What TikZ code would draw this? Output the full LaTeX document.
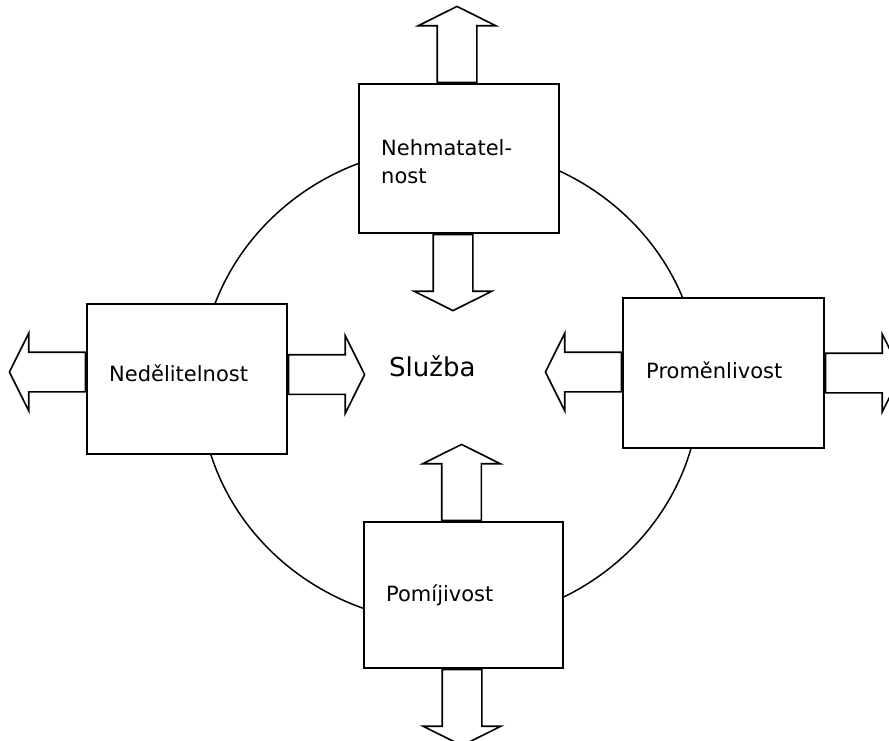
\documentclass[tikz,border=0pt]{standalone}
\usepackage{fontspec}
\setmainfont{DejaVu Sans}
\usetikzlibrary{shapes.arrows}

\begin{document}
\begin{tikzpicture}[x=1pt,y=-1pt,
    box/.style={draw, fill=white, line width=1.6pt, inner sep=0pt},
    fat/.style={single arrow, draw, fill=white, line width=1.6pt,
      inner xsep=0pt, inner ysep=19pt,
      minimum height=76pt, minimum width=76pt, single arrow head extend=19pt,
      single arrow tip angle=127, anchor=tail},
    lbl/.style={anchor=base west, inner sep=0pt, align=left,
      font=\fontsize{21}{28}\selectfont}]
  \useasboundingbox (0,0) rectangle (889,740);
  \clip (0,0) rectangle (889,740);

  \draw[line width=1.5pt] (450,385) ellipse [x radius=250pt, y radius=238pt];

  \node[box, minimum width=200pt, minimum height=149pt] (nehm) at (459,158.5) {};
  \node[box, minimum width=200pt, minimum height=150pt] (nedel) at (187,379) {};
  \node[box, minimum width=201pt, minimum height=150pt] (promen) at (723.5,373) {};
  \node[box, minimum width=199pt, minimum height=146pt] (pomij) at (463.5,595) {};

  \node[fat, rotate=90] (nehmUp) at ([xshift=-2pt]nehm.north) {};
  \node[fat, rotate=-90] (nehmDown) at ([xshift=-6pt]nehm.south) {};
  \node[fat, rotate=180] (nedelOut) at ([yshift=7pt]nedel.west) {};
  \node[fat] (nedelIn) at ([yshift=4.5pt]nedel.east) {};
  \node[fat, rotate=180] (promenIn) at ([yshift=1pt]promen.west) {};
  \node[fat] (promenOut) at (promen.east) {};
  \node[fat, rotate=90] (pomijUp) at ([xshift=-2pt]pomij.north) {};
  \node[fat, rotate=-90] (pomijDown) at ([xshift=-1.5pt]pomij.south) {};

  \node[lbl] (nehmText) at (381,183) {Nehmatatel-\\nost};
  \node[lbl] (nedelText) at (109,381) {Nedělitelnost};
  \node[lbl] (promenText) at (646,378) {Proměnlivost};
  \node[lbl] (pomijText) at (386,601) {Pomíjivost};
  \node[anchor=base west, inner sep=0pt, font=\fontsize{26}{30}\selectfont] (sluzba) at (389,376) {Služba};
\end{tikzpicture}
\end{document}
